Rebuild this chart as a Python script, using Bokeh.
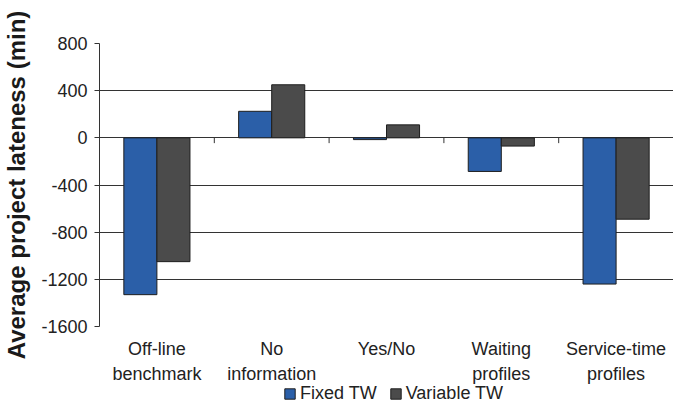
from bokeh.plotting import figure
from bokeh.layouts import column
from bokeh.models import Range1d, FixedTicker, Legend, LegendItem, ColumnDataSource
from bokeh.embed import file_html
from bokeh.resources import INLINE

categories = ["Off-line\nbenchmark", "No\ninformation", "Yes/No", "Waiting\nprofiles", "Service-time\nprofiles"]
fixed_tw = [-1330, 225, -15, -285, -1240]
variable_tw = [-1050, 450, 110, -70, -690]
y_ticks = [800, 400, 0, -400, -800, -1200, -1600]
y_tick_labels = ["800", "400", "0", "-400", "-800", "-1200", "-1600"]
series_names = ["Fixed TW", "Variable TW"]
colors = ["#2b5fa8", "#4b4b4b"]

FONT = "Liberation Sans"
n = len(categories)
centers = [i + 0.5 for i in range(n)]
bw = 0.288

p = figure(width=673, height=386, output_backend="svg", toolbar_location=None,
           x_range=Range1d(0, n), y_range=Range1d(-1600, 800),
           min_border_left=92, min_border_right=0, min_border_top=43, min_border_bottom=59)
p.outline_line_color = None
p.background_fill_color = "white"
p.border_fill_color = "white"

src_f = ColumnDataSource(dict(x=[c - bw / 2 for c in centers], top=fixed_tw))
src_v = ColumnDataSource(dict(x=[c + bw / 2 for c in centers], top=variable_tw))
bar_f = dict(fill_color=colors[0], line_color="#1e1e1e", line_width=1)
bar_v = dict(fill_color=colors[1], line_color="#1e1e1e", line_width=1)
rf = p.vbar(x="x", top="top", bottom=0, width=bw, source=src_f, **bar_f)
rv = p.vbar(x="x", top="top", bottom=0, width=bw, source=src_v, **bar_v)

# small ticks at category boundaries on the zero line
bounds = list(range(1, n))
p.segment(x0=bounds, x1=bounds, y0=[0] * len(bounds), y1=[-45] * len(bounds),
          line_color="#333333", line_width=1)

# y axis
p.yaxis.ticker = FixedTicker(ticks=y_ticks)
p.yaxis.major_label_overrides = {t: s for t, s in zip(y_ticks, y_tick_labels)}
p.yaxis.axis_label = "Average project lateness (min)"
p.yaxis.axis_label_text_font = FONT
p.yaxis.axis_label_text_font_style = "bold"
p.yaxis.axis_label_text_font_size = "24px"
p.yaxis.axis_label_text_color = "#1a1a1a"
p.yaxis.axis_label_standoff = 8
p.yaxis.major_label_text_font = FONT
p.yaxis.major_label_text_font_size = "18px"
p.yaxis.major_label_text_color = "#222222"
p.yaxis.major_label_standoff = 7
p.yaxis.major_tick_out = 5
p.yaxis.major_tick_in = 0
p.yaxis.minor_tick_line_color = None
p.yaxis.axis_line_color = "#333333"
p.yaxis.major_tick_line_color = "#333333"

# x axis (labels only)
p.xaxis.ticker = FixedTicker(ticks=centers)
p.xaxis.major_label_overrides = {c: lab for c, lab in zip(centers, categories)}
p.xaxis.major_label_text_font = FONT
p.xaxis.major_label_text_font_size = "18px"
p.xaxis.major_label_text_color = "#222222"
p.xaxis.major_label_text_line_height = 1.25
p.xaxis.major_label_standoff = 6
p.xaxis.major_tick_line_color = None
p.xaxis.minor_tick_line_color = None
p.xaxis.axis_line_color = None

p.xgrid.grid_line_color = None
p.ygrid.ticker = FixedTicker(ticks=y_ticks)
p.ygrid.grid_line_color = "#333333"
p.ygrid.grid_line_width = 1

# legend in its own strip below the chart (bars there fall outside its view)
lg = figure(width=673, height=22, output_backend="svg", toolbar_location=None,
            x_range=Range1d(0, n), y_range=Range1d(5000, 6000),
            min_border_left=0, min_border_right=0, min_border_top=0, min_border_bottom=0)
lg.axis.visible = False
lg.grid.grid_line_color = None
lg.outline_line_color = None
lf = lg.vbar(x="x", top="top", bottom=0, width=bw, source=src_f, **bar_f)
lv = lg.vbar(x="x", top="top", bottom=0, width=bw, source=src_v, **bar_v)
legend = Legend(items=[LegendItem(label=series_names[0], renderers=[lf]),
                       LegendItem(label=series_names[1], renderers=[lv])],
                orientation="horizontal", location=(184, 4),
                border_line_color=None, background_fill_alpha=0,
                label_text_font=FONT, label_text_font_size="18px", label_text_color="#222222",
                label_text_line_height=0.7,
                glyph_width=13, glyph_height=13, label_standoff=4, spacing=12,
                padding=0, margin=0, label_height=13)
lg.add_layout(legend)

open("out.html", "w").write(file_html(column(p, lg), INLINE))
